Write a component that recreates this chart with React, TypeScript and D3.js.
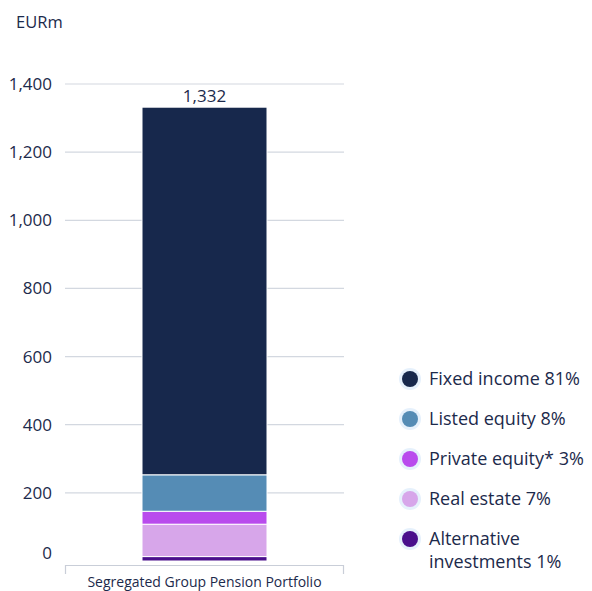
import { useEffect } from 'react'
import * as d3 from 'd3'

const categories = ['Segregated Group Pension Portfolio']
const segments = ['Alternative investments', 'Real estate', 'Private equity*', 'Listed equity', 'Fixed income']
const segmentValues = [13, 95, 38, 107, 1079]
const segmentColors = ['#4a0f8c', '#d7a6ea', '#b94bed', '#558cb5', '#17284c']
const total = 1332
const yTicks = [0, 200, 400, 600, 800, 1000, 1200, 1400]
const legendLabels = [
  ['Fixed income 81%'],
  ['Listed equity 8%'],
  ['Private equity* 3%'],
  ['Real estate 7%'],
  ['Alternative', 'investments 1%'],
]
const legendColors = ['#17284c', '#558cb5', '#b94bed', '#d7a6ea', '#4a0f8c']

const W = 592
const H = 591
const textColor = '#1c2a4b'
const font = '"Open Sans", sans-serif'

export default function App() {
  useEffect(() => {
    document.body.style.margin = '0'
  }, [])

  const y = d3.scaleLinear().domain([0, 1400]).range([561, 84])
  const x = d3.scaleBand().domain(categories).range([65, 344]).paddingInner(0).paddingOuter(0.616)

  const stacked = d3.cumsum(segmentValues)
  const starts = [0, ...stacked.slice(0, -1)]
  const legendY = [379, 419, 459, 499, 539]

  return (
    <svg width={W} height={H} style={{ display: 'block', fontFamily: font }}>
      <text x={16} y={28} fontSize={16.5} fill={textColor}>EURm</text>
      {yTicks.map(t => (
        <g key={t}>
          {t > 0 && <line x1={65} x2={344} y1={y(t)} y2={y(t)} stroke="#d3d8e0" strokeWidth={1.2} />}
          <text x={52} y={t === 0 ? y(t) - 8 : y(t)} dy="0.35em" textAnchor="end" fontSize={17} fill={textColor}>
            {d3.format(',')(t)}
          </text>
        </g>
      ))}
      {categories.map(c => (
        <g key={c}>
          {segmentValues.map((v, i) => (
            <rect
              key={segments[i]}
              x={x(c)}
              width={x.bandwidth()}
              y={y(starts[i] + v)}
              height={y(starts[i]) - y(starts[i] + v)}
              fill={segmentColors[i]}
              stroke="#fff"
              strokeWidth={1}
            />
          ))}
          <text x={(x(c) ?? 0) + x.bandwidth() / 2} y={y(total) - 5} textAnchor="middle" fontSize={17} fill={textColor}>
            {d3.format(',')(total)}
          </text>
          <text x={(x(c) ?? 0) + x.bandwidth() / 2} y={587} textAnchor="middle" fontSize={14} fill={textColor}>
            {c}
          </text>
        </g>
      ))}
      <path d="M65.5,574V565.5H343.5V574" fill="none" stroke="#c9ced8" strokeWidth={1.2} />
      {legendLabels.map((lines, i) => (
        <g key={i} transform={`translate(0,${legendY[i]})`}>
          <circle cx={410} cy={0} r={11} fill="#e6f1fc" />
          <circle cx={410} cy={0} r={8} fill={legendColors[i]} />
          {lines.map((l, j) => (
            <text key={j} x={429} y={j * 23} dy="0.35em" fontSize={18} fill={textColor}>{l}</text>
          ))}
        </g>
      ))}
    </svg>
  )
}
